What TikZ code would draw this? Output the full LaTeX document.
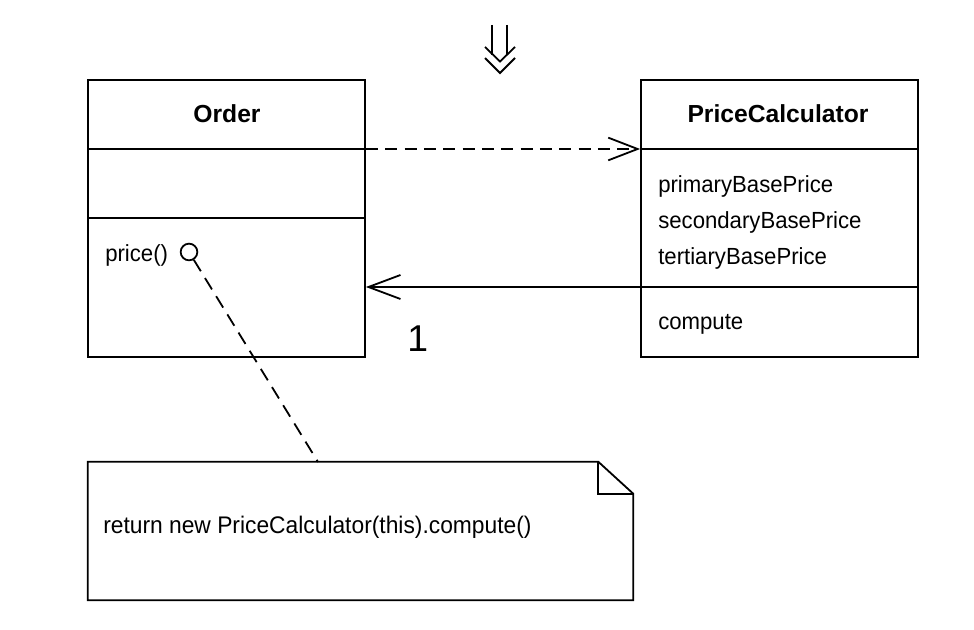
\documentclass[tikz,border=0pt]{standalone}
\usepackage{fontspec}
\setmainfont{Liberation Sans}
\usetikzlibrary{arrows.meta}
\tikzset{
  x=0.75pt, y=-0.75pt,
  umlline/.style={line width=1.35pt, black},
  classbox/.style={draw, line width=1.35pt, minimum width=207.75pt, minimum height=207.75pt, inner sep=0pt},
  titletext/.style={inner sep=0pt, anchor=base, font=\fontsize{18.5}{20}\selectfont\bfseries},
  membertext/.style={inner sep=0pt, anchor=base west, font=\fontsize{17.5}{19}\selectfont\addfontfeatures{FakeStretch=0.95}},
  notetext/.style={inner sep=0pt, anchor=base west, font=\fontsize{18}{20}\selectfont\addfontfeatures{FakeStretch=0.95}},
  dasharrow/.style={umlline, dash pattern=on 9pt off 5.5pt, -{Straight Barb[length=22pt, width=17pt, line width=1.35pt]}},
  solidarrow/.style={umlline, -{Straight Barb[length=24pt, width=18pt, line width=1.35pt]}},
  dashline/.style={umlline, dash pattern=on 10pt off 6pt},
}
\begin{document}
\begin{tikzpicture}
\useasboundingbox (0,0) rectangle (974,630);
% refactoring arrow
\draw[line width=1.35pt, line join=miter] (492,25) -- (492,55) (507,25) -- (507,55);
\draw[line width=1.35pt, line join=miter] (485,47) -- (500,61.5) -- (515,47);
\draw[line width=1.35pt, line join=miter] (485,58) -- (500,73) -- (515,58);
% Order class
\node[classbox] (order) at (226.5,218.5) {};
\coordinate (odiv1) at (88,149);
\coordinate (odiv2) at (88,218);
\draw[umlline] (order.west |- odiv1) -- (order.east |- odiv1);
\draw[umlline] (order.west |- odiv2) -- (order.east |- odiv2);
\node[titletext] (ordertitle) at (227,123) {Order};
\node[membertext] (price) at (105,262) {price()};
\node[draw, circle, line width=1.35pt, minimum size=12.5pt, inner sep=0pt] (pc) at (189,252) {};
% PriceCalculator class
\node[classbox] (calc) at (779.5,218.5) {};
\coordinate (cdiv1) at (641,149);
\coordinate (cdiv2) at (641,287);
\draw[umlline] (calc.west |- cdiv1) -- (calc.east |- cdiv1);
\draw[umlline] (calc.west |- cdiv2) -- (calc.east |- cdiv2);
\node[titletext] (calctitle) at (778,123) {PriceCalculator};
\node[membertext] (a1) at (658,193) {primaryBasePrice};
\node[membertext] (a2) at (658,229) {secondaryBasePrice};
\node[membertext] (a3) at (658,265) {tertiaryBasePrice};
\node[membertext] (op) at (658,330) {compute};
% connectors
\draw[dasharrow] (order.east |- odiv1) -- (calc.west |- cdiv1);
\draw[solidarrow] (calc.west |- cdiv2) -- (order.east |- cdiv2);
\node[inner sep=0pt, anchor=base west, font=\fontsize{28}{30}\selectfont] (mult) at (407,352) {1};
% note
\node[minimum width=408.75pt, minimum height=103.5pt, inner sep=0pt] (note) at (360.5,531) {};
\draw[umlline, line join=miter] (note.north west) -- ([xshift=-26.25pt]note.north east) -- ([yshift=-24pt]note.north east) -- (note.south east) -- (note.south west) -- cycle;
\draw[umlline, line join=miter] ([xshift=-26.25pt]note.north east) -- ([xshift=-26.25pt, yshift=-24pt]note.north east) -- ([yshift=-24pt]note.north east);
\node[notetext] (notetxt) at (103,533) {return new PriceCalculator(this).compute()};
\coordinate (ntop) at (318,462);
\draw[dashline] (pc) -- (ntop);
\end{tikzpicture}
\end{document}
